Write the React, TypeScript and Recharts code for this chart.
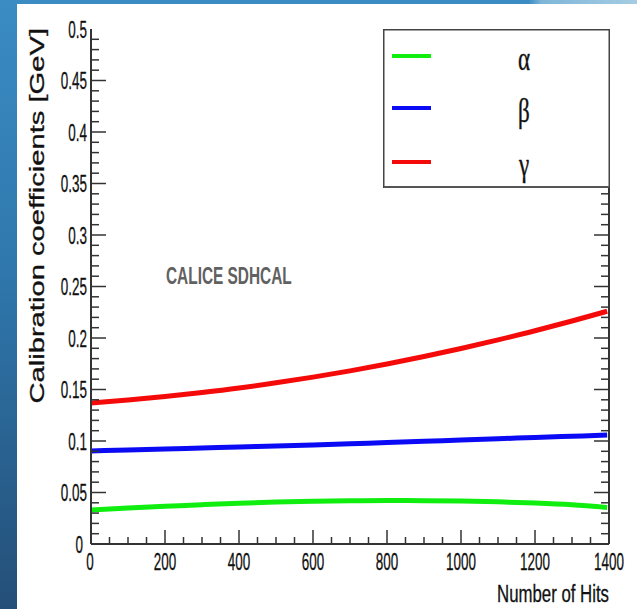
import React from 'react';
import { LineChart, Line, XAxis, YAxis, Legend } from 'recharts';

// ---- data ----
const HITS = [0, 100, 200, 300, 400, 500, 600, 700, 800, 900, 1000, 1100, 1200, 1300, 1395];
const ALPHA = [0.033, 0.035, 0.0366, 0.0382, 0.0396, 0.0407, 0.0415, 0.042, 0.0422, 0.0421, 0.0417, 0.0409, 0.0397, 0.038, 0.0355];
const BETA = [0.0903, 0.0913, 0.0922, 0.0932, 0.0942, 0.0951, 0.0961, 0.0973, 0.0985, 0.0997, 0.101, 0.1022, 0.1034, 0.1046, 0.1058];
const GAMMA = [0.137, 0.1398, 0.1431, 0.147, 0.1514, 0.1565, 0.162, 0.1681, 0.1748, 0.182, 0.1898, 0.1982, 0.207, 0.2165, 0.226];
const SERIES_NAMES = ['α', 'β', 'γ'];
const SERIES_COLORS = ['#10ee10', '#0a0af5', '#f50a0a'];
const X_LABELS = [0, 200, 400, 600, 800, 1000, 1200, 1400];
const Y_LABELS = [0, 0.05, 0.1, 0.15, 0.2, 0.25, 0.3, 0.35, 0.4, 0.45, 0.5];
const X_MINOR_STEP = 50;
const Y_MINOR_STEP = 0.01;
const X_TITLE = 'Number of Hits';
const Y_TITLE = 'Calibration coefficients [GeV]';
const WATERMARK = 'CALICE SDHCAL';

const data = HITS.map((h, i) => ({ hits: h, alpha: ALPHA[i], beta: BETA[i], gamma: GAMMA[i] }));

const X_MAX = X_LABELS[X_LABELS.length - 1];
const Y_MAX = Y_LABELS[Y_LABELS.length - 1];
const xTicks = Array.from({ length: Math.round(X_MAX / X_MINOR_STEP) + 1 }, (_, i) => i * X_MINOR_STEP);
const yTicks = Array.from({ length: Math.round(Y_MAX / Y_MINOR_STEP) + 1 }, (_, i) => +(i * Y_MINOR_STEP).toFixed(2));

const isMajorX = (v: number) => X_LABELS.includes(v);
const isMajorY = (v: number) => Y_LABELS.some((l) => Math.abs(l - v) < 1e-9);
const fmtY = (v: number) => String(parseFloat(v.toFixed(2)));

const AX = '#333';
const LBL_FONT = '"Liberation Sans", Arial, sans-serif';

const BottomTick = (p: any) => {
  const { x, y, payload } = p;
  const v = payload.value;
  const major = isMajorX(v);
  const len = major ? 14 : 7;
  return (
    <g>
      {v > 0 && v < X_MAX && <line x1={x} x2={x} y1={y} y2={y - len} stroke={AX} strokeWidth={1.5} />}
      {major && (
        <text transform={`translate(${v === 0 ? x - 1 : x},${y + 17}) scale(0.56,1)`} textAnchor="middle" dominantBaseline="central" fontFamily={LBL_FONT} fontSize={24} fill="#111" stroke="#111" strokeWidth={0.3}>
          {v}
        </text>
      )}
    </g>
  );
};

const TopTick = (p: any) => {
  const { x, y, payload } = p;
  const v = payload.value;
  const major = isMajorX(v);
  const len = major ? 14 : 7;
  if (v <= 0 || v >= X_MAX) return <g />;
  return <line x1={x} x2={x} y1={y} y2={y + len} stroke={AX} strokeWidth={1.5} />;
};

const LeftTick = (p: any) => {
  const { x, y, payload } = p;
  const v = payload.value;
  const major = isMajorY(v);
  const len = major ? 15 : 8;
  return (
    <g>
      {v > 0 && v < Y_MAX && <line x1={x} x2={x + len} y1={y} y2={y} stroke={AX} strokeWidth={1.5} />}
      {major && (
        <text transform={`translate(${v === 0 ? x - 8 : x - 4},${y}) scale(0.56,1)`} textAnchor="end" dominantBaseline="central" fontFamily={LBL_FONT} fontSize={24} fill="#111" stroke="#111" strokeWidth={0.3}>
          {fmtY(v)}
        </text>
      )}
    </g>
  );
};

const RightTick = (p: any) => {
  const { x, y, payload } = p;
  const v = payload.value;
  const major = isMajorY(v);
  const len = major ? 15 : 8;
  if (v <= 0 || v >= Y_MAX) return <g />;
  return <line x1={x} x2={x - len} y1={y} y2={y} stroke={AX} strokeWidth={1.5} />;
};

const LegendBox = (props: any) => {
  const payload = props.payload || [];
  const rows = [27, 79, 133];
  return (
    <svg width={227} height={159} style={{ display: 'block' }}>
      <rect x={0.75} y={0.75} width={225.5} height={157.5} fill="#fff" stroke="#444" strokeWidth={1.5} />
      <line x1={1} x2={226} y1={158} y2={158} stroke="#555" strokeWidth={2} />
      {payload.map((e: any, i: number) => (
        <g key={i}>
          <line x1={9} x2={48} y1={rows[i]} y2={rows[i]} stroke={e.color} strokeWidth={4} />
          <text transform={`translate(141,${rows[i] + 3}) scale(0.7,1)`} textAnchor="middle" dominantBaseline="central" fontFamily='"Liberation Serif", "DejaVu Serif", serif' fontSize={33} fill="#111" stroke="#111" strokeWidth={0.4}>
            {e.value}
          </text>
        </g>
      ))}
    </svg>
  );
};

export default function App() {
  return (
    <div style={{ position: 'fixed', left: 0, top: 0, width: 637, height: 609, overflow: 'hidden', background: 'linear-gradient(to bottom, #3a8cc3 0%, #2f77ac 45%, #244f78 100%)' }}>
      <div style={{ position: 'absolute', left: 0, top: 0, width: 637, height: 4, background: 'linear-gradient(to right, #3a8cc3 0%, #3a8cc3 83%, #7fb6d8 85%, #a5cce4 100%)' }} />
      <div style={{ position: 'absolute', left: 17, top: 4, width: 620, height: 605, background: '#fff' }} />
      <div style={{ position: 'absolute', left: 0, top: 0 }}>
        <LineChart width={637} height={609} data={data} margin={{ top: 29, right: 0, bottom: 0, left: 0 }}>
          <XAxis xAxisId={0} dataKey="hits" type="number" domain={[0, X_MAX]} allowDataOverflow ticks={xTicks} interval={0} height={65} tickSize={0} tickMargin={0} tick={<BottomTick />} axisLine={{ stroke: AX, strokeWidth: 2 }} tickLine={false} />
          <XAxis xAxisId="top" orientation="top" type="number" domain={[0, X_MAX]} allowDataOverflow ticks={xTicks} interval={0} height={0} tickSize={0} tickMargin={0} tick={<TopTick />} axisLine={{ stroke: AX, strokeWidth: 2 }} tickLine={false} />
          <YAxis yAxisId={0} type="number" domain={[0, Y_MAX]} allowDataOverflow ticks={yTicks} interval={0} width={91} tickSize={0} tickMargin={0} tick={<LeftTick />} axisLine={{ stroke: AX, strokeWidth: 2 }} tickLine={false} />
          <YAxis yAxisId="right" orientation="right" type="number" domain={[0, Y_MAX]} allowDataOverflow ticks={yTicks} interval={0} width={28} tickSize={0} tickMargin={0} tick={<RightTick />} axisLine={{ stroke: AX, strokeWidth: 2 }} tickLine={false} />
          <Line dataKey="alpha" name={SERIES_NAMES[0]} stroke={SERIES_COLORS[0]} strokeWidth={5} dot={false} type="monotone" isAnimationActive={false} />
          <Line dataKey="beta" name={SERIES_NAMES[1]} stroke={SERIES_COLORS[1]} strokeWidth={5} dot={false} type="monotone" isAnimationActive={false} />
          <Line dataKey="gamma" name={SERIES_NAMES[2]} stroke={SERIES_COLORS[2]} strokeWidth={5} dot={false} type="monotone" isAnimationActive={false} />
          <Legend layout="vertical" align="center" verticalAlign="middle" content={<LegendBox />} wrapperStyle={{ position: 'absolute', left: 383, top: 29, width: 227, height: 159 }} />
        </LineChart>
      </div>
      <svg width={637} height={609} style={{ position: 'absolute', left: 0, top: 0, pointerEvents: 'none' }}>
        <text transform="translate(609,602) scale(0.73,1)" textAnchor="end" fontFamily={LBL_FONT} fontSize={23} fill="#111" stroke="#111" strokeWidth={0.3}>{X_TITLE}</text>
        <text transform="translate(37,28) rotate(-90) scale(1.39,1)" textAnchor="end" dominantBaseline="central" fontFamily={LBL_FONT} fontSize={21} fill="#111" stroke="#111" strokeWidth={0.3}>{Y_TITLE}</text>
        <text transform="translate(166,284) scale(0.67,1)" fontFamily={LBL_FONT} fontWeight="bold" fontSize={23} fill="#616161">{WATERMARK}</text>
      </svg>
    </div>
  );
}
